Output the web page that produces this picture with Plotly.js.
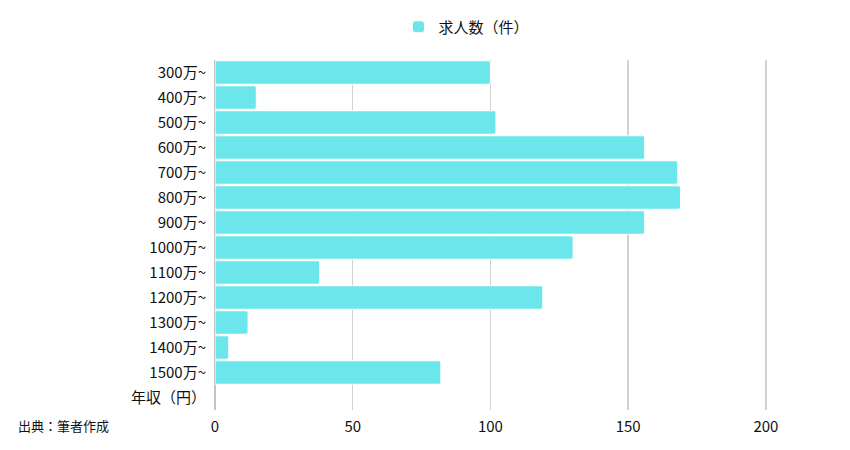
<!DOCTYPE html>
<html><head><meta charset="utf-8">
<script src="https://cdn.plot.ly/plotly-3.0.1.min.js"></script>
<style>body{margin:0;background:#fff}#c{width:850px;height:450px}</style>
</head><body><div id="c"></div>
<script>
const categories = ["300万~","400万~","500万~","600万~","700万~","800万~","900万~","1000万~","1100万~","1200万~","1300万~","1400万~","1500万~","年収（円）"];
const counts = [100,15,102,156,168,169,156,130,38,119,12,5,82,null];
const seriesName = "求人数（件）";
const xTicks = [0,50,100,150,200];
const font = "'Noto Sans CJK JP','Noto Sans',sans-serif";

Plotly.newPlot("c", [{
  type: "bar", orientation: "h",
  y: categories, x: counts, name: seriesName,
  marker: {color: "#6be6ea", line: {color: "#ffffff", width: 1}},
  hoverinfo: "none"
}], {
  width: 850, height: 450,
  margin: {l: 215, r: 29, t: 60, b: 40},
  font: {family: font, size: 15, color: "#111"},
  paper_bgcolor: "#fff", plot_bgcolor: "#fff",
  bargap: 0.06,
  barcornerradius: 2,
  showlegend: true,
  legend: {orientation: "h", x: 0.415, xanchor: "center", y: 0.94, yanchor: "middle", yref: "container", font: {size: 15}, itemwidth: 30},
  xaxis: {range: [0, 220], tickvals: xTicks, showgrid: true, gridcolor: "#d2d2d2", gridwidth: 1.5,
          zeroline: true, zerolinecolor: "#c4c4c4", zerolinewidth: 1.5, showline: false, ticks: "", ticklabelstandoff: 6},
  yaxis: {type: "category", autorange: "reversed", showgrid: false, zeroline: false, ticks: "", ticklabelstandoff: 8},
  annotations: [{text: "出典：筆者作成", xref: "paper", yref: "paper", x: -0.328, y: 0, xanchor: "left", yanchor: "middle", yshift: -15, showarrow: false, font: {size: 13, color: "#111"}}]
}, {displayModeBar: false, staticPlot: true});
</script></body></html>
